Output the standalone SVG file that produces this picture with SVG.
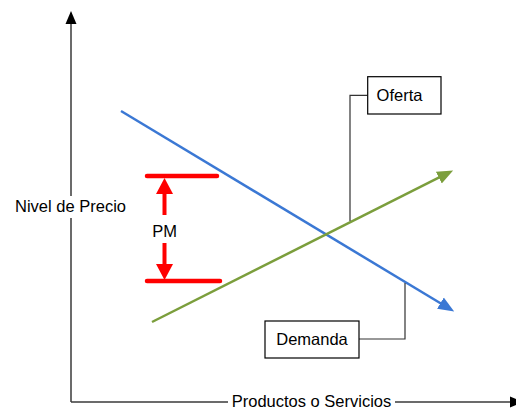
<svg xmlns="http://www.w3.org/2000/svg" width="516" height="410" viewBox="0 0 516 410">
  <style>
    text { font-family: "Liberation Sans", Arial, sans-serif; font-size: 16.5px; fill: #000; }
    .axis { stroke: #3a3a3a; stroke-width: 1.5; fill: none; }
    .conn { stroke: #333; stroke-width: 1.2; fill: none; }
    .box { fill: #fff; stroke: #000; stroke-width: 1.2; }
    .bg { fill: #fff; stroke: none; }
    .red { stroke: #ff0000; stroke-width: 4.5; stroke-linecap: round; fill: none; }
  </style>
  <defs>
    <marker id="axisArrow" markerUnits="userSpaceOnUse" markerWidth="14" markerHeight="12" viewBox="0 -6 14 12" refX="1" refY="0" orient="auto">
      <path d="M0,-5.5 L13,0 L0,5.5 z" fill="#000"/>
    </marker>
    <marker id="blueArrow" markerUnits="userSpaceOnUse" markerWidth="17" markerHeight="14" viewBox="0 -7 17 14" refX="1" refY="0" orient="auto">
      <path d="M0,-6.5 L16,0 L0,6.5 z" fill="#3b78d4"/>
    </marker>
    <marker id="greenArrow" markerUnits="userSpaceOnUse" markerWidth="17" markerHeight="14" viewBox="0 -7 17 14" refX="1" refY="0" orient="auto">
      <path d="M0,-6.5 L16,0 L0,6.5 z" fill="#7b9e3c"/>
    </marker>
    <marker id="redArrow" markerUnits="userSpaceOnUse" markerWidth="17" markerHeight="18" viewBox="0 -9 17 18" refX="1" refY="0" orient="auto-start-reverse">
      <path d="M0,-8.5 L16,0 L0,8.5 z" fill="#ff0000"/>
    </marker>
  </defs>

  <g id="axes">
    <line class="axis" x1="71" y1="402" x2="71" y2="23" marker-end="url(#axisArrow)"/>
    <line class="axis" x1="71" y1="402" x2="511" y2="402" marker-end="url(#axisArrow)"/>
  </g>

  <g id="y-label">
    <rect class="bg" x="12" y="196" width="117" height="22"/>
    <text x="70.5" y="212" text-anchor="middle">Nivel de Precio</text>
  </g>

  <g id="x-label">
    <rect class="bg" x="228" y="392" width="167" height="18"/>
    <text x="311.5" y="407" text-anchor="middle">Productos o Servicios</text>
  </g>

  <g id="connectors">
    <line x1="121" y1="111" x2="441.3" y2="303.7" stroke="#3b78d4" stroke-width="2.5" marker-end="url(#blueArrow)"/>
    <line x1="152" y1="322" x2="439.7" y2="177.2" stroke="#7b9e3c" stroke-width="2.5" marker-end="url(#greenArrow)"/>
    <polyline class="conn" points="367.7,95.3 350,95.3 350,221"/>
    <polyline class="conn" points="359,339 405,339 405,283"/>
  </g>

  <g id="pm">
    <line class="red" x1="147" y1="176" x2="217" y2="176"/>
    <line class="red" x1="147" y1="281" x2="220" y2="281"/>
    <line x1="164.5" y1="193" x2="164.5" y2="265" stroke="#ff0000" stroke-width="4" marker-start="url(#redArrow)" marker-end="url(#redArrow)"/>
    <rect class="bg" x="151" y="215" width="27" height="28"/>
    <text x="164.5" y="237" text-anchor="middle">PM</text>
  </g>

  <g id="oferta">
    <rect class="box" x="367.7" y="76.7" width="73.3" height="37.3"/>
    <text x="399.5" y="101" text-anchor="middle">Oferta</text>
  </g>

  <g id="demanda">
    <rect class="box" x="265" y="321" width="94" height="37"/>
    <text x="312" y="345" text-anchor="middle">Demanda</text>
  </g>
</svg>
